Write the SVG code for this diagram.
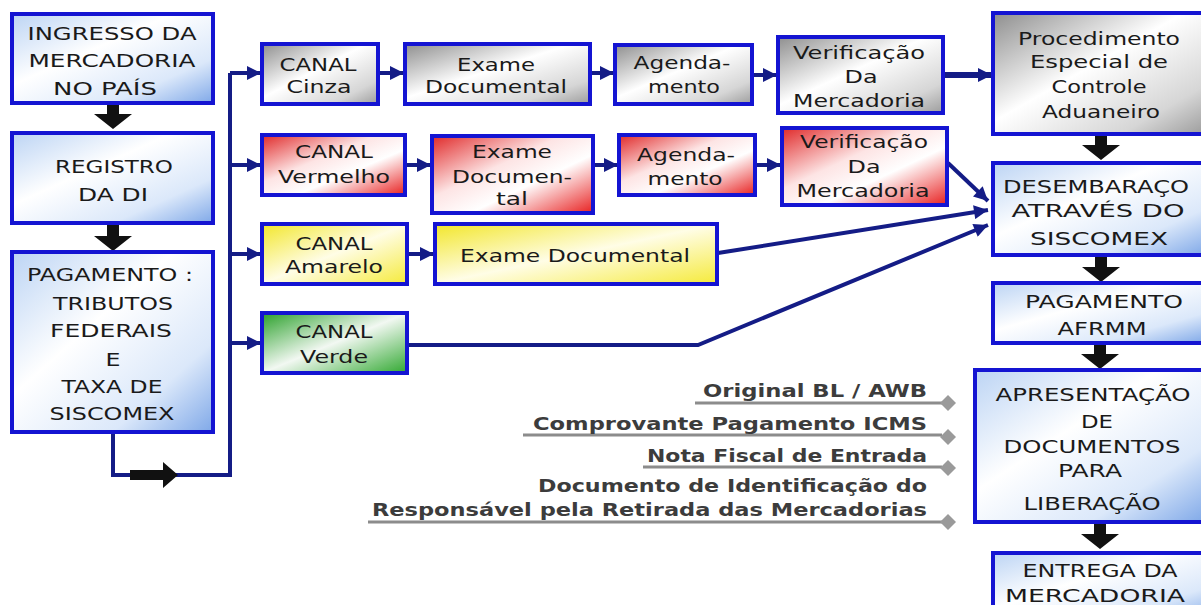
<svg xmlns="http://www.w3.org/2000/svg" width="1201" height="605" viewBox="0 0 1201 605">
<style>
.box{stroke:#1414d2;stroke-width:4}
.t{font-family:"DejaVu Sans","Liberation Sans",sans-serif;font-size:18px;fill:#1a1a1a;text-anchor:middle}
.d{font-family:"DejaVu Sans","Liberation Sans",sans-serif;font-size:18px;font-weight:bold;fill:#3c3c3c;text-anchor:end}
.c{fill:none;stroke:#141c86;stroke-width:4}
.blk{fill:#111}
.ul{stroke:#8c8c8c;stroke-width:3}
.dia{fill:#9a9a9a}
</style>
<defs>
<linearGradient id="gBlue" x1="0" y1="0" x2="1" y2="1">
<stop offset="0" stop-color="#bcd4f4"/><stop offset="0.4" stop-color="#ffffff"/><stop offset="0.75" stop-color="#dbe8fa"/><stop offset="1" stop-color="#7fa8e8"/>
</linearGradient>
<linearGradient id="gGray" x1="0" y1="0" x2="1" y2="1">
<stop offset="0" stop-color="#8e8e8e"/><stop offset="0.45" stop-color="#ffffff"/><stop offset="0.8" stop-color="#d6d6d6"/><stop offset="1" stop-color="#9c9c9c"/>
</linearGradient>
<linearGradient id="gRed" x1="0" y1="0" x2="1" y2="1">
<stop offset="0" stop-color="#e02828"/><stop offset="0.4" stop-color="#fde4e4"/><stop offset="0.62" stop-color="#ffffff"/><stop offset="1" stop-color="#e82020"/>
</linearGradient>
<linearGradient id="gYel" x1="0" y1="0" x2="1" y2="1">
<stop offset="0" stop-color="#f2e62a"/><stop offset="0.5" stop-color="#fffde6"/><stop offset="1" stop-color="#f5ea3a"/>
</linearGradient>
<linearGradient id="gGrn" x1="0" y1="0" x2="1" y2="1">
<stop offset="0" stop-color="#2aa02a"/><stop offset="0.5" stop-color="#f2f8f2"/><stop offset="1" stop-color="#30a830"/>
</linearGradient>
<marker id="ah" viewBox="0 0 10 10" refX="10" refY="5" markerWidth="16" markerHeight="14" markerUnits="userSpaceOnUse" orient="auto">
<path d="M0 0 L10 5 L0 10 z" fill="#141c86"/>
</marker>
</defs>
<rect width="1201" height="605" fill="#ffffff"/>

<g id="connectors">
<path class="c" d="M113 432 V475 H230 V73"/>
<path class="c" d="M230 73 H261" marker-end="url(#ah)"/>
<path class="c" d="M230 165 H261" marker-end="url(#ah)"/>
<path class="c" d="M230 254 H261" marker-end="url(#ah)"/>
<path class="c" d="M230 343 H261" marker-end="url(#ah)"/>
<path class="c" d="M378 73 H404" marker-end="url(#ah)"/>
<path class="c" d="M590 73 H614" marker-end="url(#ah)"/>
<path class="c" d="M752 75 H777" marker-end="url(#ah)"/>
<path class="c" style="stroke-width:6" d="M943 75 H992" marker-end="url(#ah)"/>
<path class="c" d="M405 165 H431" marker-end="url(#ah)"/>
<path class="c" d="M593 165 H618" marker-end="url(#ah)"/>
<path class="c" d="M755 165 H781" marker-end="url(#ah)"/>
<path class="c" d="M948 163 L988 201" marker-end="url(#ah)"/>
<path class="c" d="M407 254 H434" marker-end="url(#ah)"/>
<path class="c" d="M718 253 L988 210" marker-end="url(#ah)"/>
<path class="c" d="M407 345 H698 L988 225" marker-end="url(#ah)"/>
<polygon class="blk" points="107,104 119,104 119,114 132,114 113,129 94,114 107,114"/>
<polygon class="blk" points="107,225 119,225 119,236 132,236 113,251 94,236 107,236"/>
<polygon class="blk" points="1095,135 1107,135 1107,145 1120,145 1101,160 1082,145 1095,145"/>
<polygon class="blk" points="1095,256 1107,256 1107,267 1120,267 1101,282 1082,267 1095,267"/>
<polygon class="blk" points="1094,344 1106,344 1106,354 1119,354 1100,369 1081,354 1094,354"/>
<polygon class="blk" points="1094,523 1106,523 1106,534 1119,534 1100,549 1081,534 1094,534"/>
<polygon class="blk" points="130,470 163,470 163,462 178,475 163,488 163,480 130,480"/>
</g>

<g id="ingresso"><rect class="box" x="12" y="14" width="201" height="89" fill="url(#gBlue)"/>
<text class="t" x="112" y="40" textLength="169" lengthAdjust="spacingAndGlyphs">INGRESSO DA</text>
<text class="t" x="112" y="67" textLength="167" lengthAdjust="spacingAndGlyphs">MERCADORIA</text>
<text class="t" x="105" y="95" textLength="104" lengthAdjust="spacingAndGlyphs">NO PAÍS</text></g>

<g id="registro"><rect class="box" x="12" y="133" width="201" height="90" fill="url(#gBlue)"/>
<text class="t" x="114" y="173" textLength="118" lengthAdjust="spacingAndGlyphs">REGISTRO</text>
<text class="t" x="113" y="201" textLength="70" lengthAdjust="spacingAndGlyphs">DA DI</text></g>

<g id="pagamento"><rect class="box" x="12" y="252" width="201" height="180" fill="url(#gBlue)"/>
<text class="t" x="110" y="281" textLength="166" lengthAdjust="spacingAndGlyphs">PAGAMENTO :</text>
<text class="t" x="113" y="310" textLength="120" lengthAdjust="spacingAndGlyphs">TRIBUTOS</text>
<text class="t" x="111" y="337" textLength="122" lengthAdjust="spacingAndGlyphs">FEDERAIS</text>
<text class="t" x="113" y="366" textLength="15" lengthAdjust="spacingAndGlyphs">E</text>
<text class="t" x="112" y="393" textLength="101" lengthAdjust="spacingAndGlyphs">TAXA DE</text>
<text class="t" x="112" y="420" textLength="125" lengthAdjust="spacingAndGlyphs">SISCOMEX</text></g>

<g id="canal-cinza"><rect class="box" x="262" y="44" width="116" height="60" fill="url(#gGray)"/>
<text class="t" x="318" y="71" textLength="77" lengthAdjust="spacingAndGlyphs">CANAL</text>
<text class="t" x="319" y="93" textLength="65" lengthAdjust="spacingAndGlyphs">Cinza</text></g>

<g id="exame-cinza"><rect class="box" x="405" y="44" width="185" height="60" fill="url(#gGray)"/>
<text class="t" x="496" y="71" textLength="78" lengthAdjust="spacingAndGlyphs">Exame</text>
<text class="t" x="496" y="93" textLength="142" lengthAdjust="spacingAndGlyphs">Documental</text></g>

<g id="agenda-cinza"><rect class="box" x="615" y="45" width="137" height="59" fill="url(#gGray)"/>
<text class="t" x="682" y="69" textLength="97" lengthAdjust="spacingAndGlyphs">Agenda-</text>
<text class="t" x="684" y="93" textLength="72" lengthAdjust="spacingAndGlyphs">mento</text></g>

<g id="verif-cinza"><rect class="box" x="778" y="37" width="165" height="76" fill="url(#gGray)"/>
<text class="t" x="859" y="59" textLength="132" lengthAdjust="spacingAndGlyphs">Verificação</text>
<text class="t" x="861" y="83" textLength="33" lengthAdjust="spacingAndGlyphs">Da</text>
<text class="t" x="859" y="107" textLength="132" lengthAdjust="spacingAndGlyphs">Mercadoria</text></g>

<g id="procedimento"><rect class="box" x="993" y="13" width="212" height="121" fill="url(#gGray)"/>
<text class="t" x="1099" y="45" textLength="162" lengthAdjust="spacingAndGlyphs">Procedimento</text>
<text class="t" x="1099" y="68" textLength="138" lengthAdjust="spacingAndGlyphs">Especial de</text>
<text class="t" x="1099" y="93" textLength="95" lengthAdjust="spacingAndGlyphs">Controle</text>
<text class="t" x="1101" y="118" textLength="118" lengthAdjust="spacingAndGlyphs">Aduaneiro</text></g>

<g id="canal-vermelho"><rect class="box" x="262" y="135" width="143" height="60" fill="url(#gRed)"/>
<text class="t" x="334" y="158" textLength="78" lengthAdjust="spacingAndGlyphs">CANAL</text>
<text class="t" x="334" y="183" textLength="112" lengthAdjust="spacingAndGlyphs">Vermelho</text></g>

<g id="exame-vermelho"><rect class="box" x="432" y="136" width="161" height="77" fill="url(#gRed)"/>
<text class="t" x="512" y="158" textLength="80" lengthAdjust="spacingAndGlyphs">Exame</text>
<text class="t" x="512" y="183" textLength="120" lengthAdjust="spacingAndGlyphs">Documen-</text>
<text class="t" x="512" y="205" textLength="32" lengthAdjust="spacingAndGlyphs">tal</text></g>

<g id="agenda-vermelho"><rect class="box" x="619" y="135" width="136" height="60" fill="url(#gRed)"/>
<text class="t" x="686" y="161" textLength="98" lengthAdjust="spacingAndGlyphs">Agenda-</text>
<text class="t" x="685" y="185" textLength="75" lengthAdjust="spacingAndGlyphs">mento</text></g>

<g id="verif-vermelho"><rect class="box" x="782" y="128" width="165" height="77" fill="url(#gRed)"/>
<text class="t" x="864" y="148" textLength="128" lengthAdjust="spacingAndGlyphs">Verificação</text>
<text class="t" x="864" y="173" textLength="33" lengthAdjust="spacingAndGlyphs">Da</text>
<text class="t" x="863" y="197" textLength="133" lengthAdjust="spacingAndGlyphs">Mercadoria</text></g>

<g id="desembaraco"><rect class="box" x="993" y="163" width="212" height="92" fill="url(#gBlue)"/>
<text class="t" x="1096" y="193" textLength="186" lengthAdjust="spacingAndGlyphs">DESEMBARAÇO</text>
<text class="t" x="1098" y="217" textLength="173" lengthAdjust="spacingAndGlyphs">ATRAVÉS DO</text>
<text class="t" x="1099" y="245" textLength="138" lengthAdjust="spacingAndGlyphs">SISCOMEX</text></g>

<g id="canal-amarelo"><rect class="box" x="262" y="224" width="145" height="60" fill="url(#gYel)"/>
<text class="t" x="334" y="250" textLength="77" lengthAdjust="spacingAndGlyphs">CANAL</text>
<text class="t" x="334" y="273" textLength="98" lengthAdjust="spacingAndGlyphs">Amarelo</text></g>

<g id="exame-amarelo"><rect class="box" x="435" y="224" width="282" height="60" fill="url(#gYel)"/>
<text class="t" x="575" y="262" textLength="230" lengthAdjust="spacingAndGlyphs">Exame Documental</text></g>

<g id="canal-verde"><rect class="box" x="262" y="313" width="145" height="60" fill="url(#gGrn)"/>
<text class="t" x="334" y="338" textLength="77" lengthAdjust="spacingAndGlyphs">CANAL</text>
<text class="t" x="334" y="363" textLength="68" lengthAdjust="spacingAndGlyphs">Verde</text></g>

<g id="pagamento-afrmm"><rect class="box" x="993" y="283" width="212" height="60" fill="url(#gBlue)"/>
<text class="t" x="1104" y="308" textLength="158" lengthAdjust="spacingAndGlyphs">PAGAMENTO</text>
<text class="t" x="1102" y="335" textLength="89" lengthAdjust="spacingAndGlyphs">AFRMM</text></g>

<g id="apresentacao"><rect class="box" x="975" y="370" width="230" height="152" fill="url(#gBlue)"/>
<text class="t" x="1093" y="401" textLength="195" lengthAdjust="spacingAndGlyphs">APRESENTAÇÃO</text>
<text class="t" x="1097" y="428" textLength="32" lengthAdjust="spacingAndGlyphs">DE</text>
<text class="t" x="1092" y="453" textLength="177" lengthAdjust="spacingAndGlyphs">DOCUMENTOS</text>
<text class="t" x="1090" y="477" textLength="64" lengthAdjust="spacingAndGlyphs">PARA</text>
<text class="t" x="1092" y="510" textLength="137" lengthAdjust="spacingAndGlyphs">LIBERAÇÃO</text></g>

<g id="entrega"><rect class="box" x="993" y="553" width="212" height="70" fill="url(#gBlue)"/>
<text class="t" x="1100" y="577" textLength="155" lengthAdjust="spacingAndGlyphs">ENTREGA DA</text>
<text class="t" x="1095" y="602" textLength="180" lengthAdjust="spacingAndGlyphs">MERCADORIA</text></g>

<g id="documentos">
<line class="ul" x1="695" y1="403" x2="942" y2="403"/>
<line class="ul" x1="523" y1="435" x2="942" y2="435"/>
<line class="ul" x1="643" y1="467" x2="942" y2="467"/>
<line class="ul" x1="368" y1="522" x2="942" y2="522"/>
<polygon class="dia" points="948,395 956,403 948,411 940,403"/>
<polygon class="dia" points="948,429 956,437 948,445 940,437"/>
<polygon class="dia" points="948,460 956,468 948,476 940,468"/>
<polygon class="dia" points="948,514 956,522 948,530 940,522"/>
<text class="d" x="927" y="397" textLength="224" lengthAdjust="spacingAndGlyphs">Original BL / AWB</text>
<text class="d" x="927" y="430" textLength="394" lengthAdjust="spacingAndGlyphs">Comprovante Pagamento ICMS</text>
<text class="d" x="927" y="462" textLength="280" lengthAdjust="spacingAndGlyphs">Nota Fiscal de Entrada</text>
<text class="d" x="927" y="492" textLength="389" lengthAdjust="spacingAndGlyphs">Documento de Identificação do</text>
<text class="d" x="927" y="516" textLength="555" lengthAdjust="spacingAndGlyphs">Responsável pela Retirada das Mercadorias</text>
</g>
</svg>
